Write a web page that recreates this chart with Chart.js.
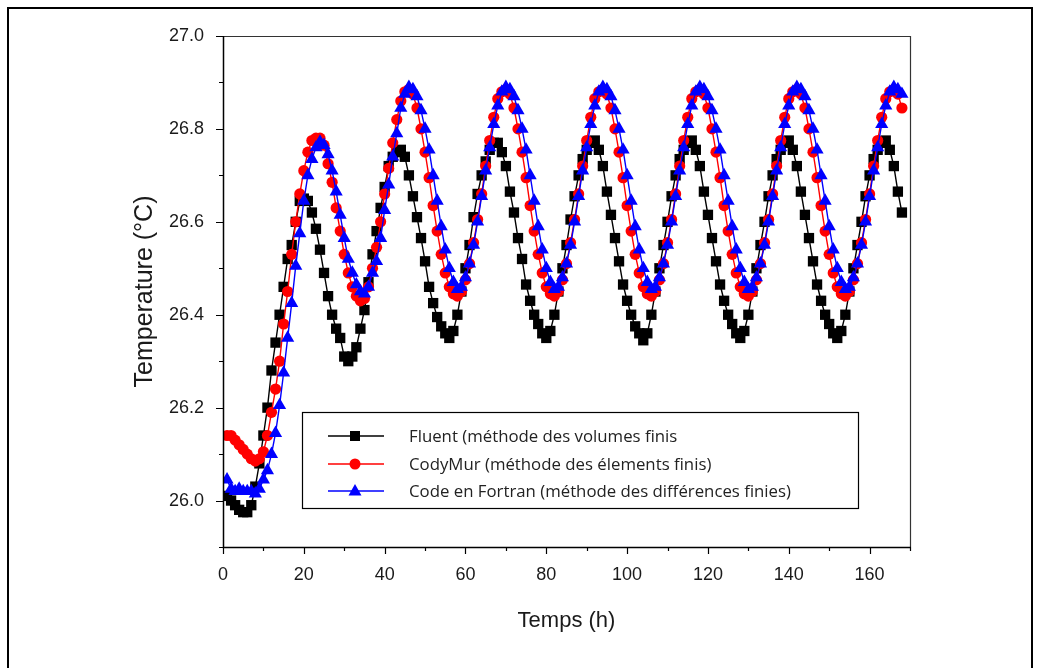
<!DOCTYPE html>
<html lang="fr">
<head>
<meta charset="utf-8">
<title>Temperature</title>
<script src="https://cdn.jsdelivr.net/npm/chart.js@4.4.1/dist/chart.umd.min.js"></script>
<style>
  html, body { margin: 0; padding: 0; background: #fff; }
  #boite { width: 1039px; height: 668px; }
</style>
</head>
<body>
<div id="boite"><canvas id="graphe" width="1039" height="668"></canvas></div>
<script>
// heures de simulation (h)
const heures = [
  1,2,3,4,5,6,7,8,9,10,11,12,13,14,15,16,17,18,19,20,
  21,22,23,24,25,26,27,28,29,30,31,32,33,34,35,36,37,38,39,40,
  41,42,43,44,45,46,47,48,49,50,51,52,53,54,55,56,57,58,59,60,
  61,62,63,64,65,66,67,68,69,70,71,72,73,74,75,76,77,78,79,80,
  81,82,83,84,85,86,87,88,89,90,91,92,93,94,95,96,97,98,99,100,
  101,102,103,104,105,106,107,108,109,110,111,112,113,114,115,116,117,118,119,120,
  121,122,123,124,125,126,127,128,129,130,131,132,133,134,135,136,137,138,139,140,
  141,142,143,144,145,146,147,148,149,150,151,152,153,154,155,156,157,158,159,160,
  161,162,163,164,165,166,167,168
];

// Fluent (méthode des volumes finis)
const fluent = [
  26.01,26.00,25.99,25.98,25.975,25.975,25.99,26.03,26.08,26.14,
  26.20,26.28,26.34,26.40,26.46,26.52,26.55,26.60,26.645,26.65,
  26.645,26.62,26.585,26.54,26.49,26.44,26.40,26.37,26.35,26.31,
  26.30,26.31,26.33,26.37,26.41,26.47,26.53,26.58,26.63,26.675,
  26.72,26.74,26.75,26.755,26.74,26.70,26.655,26.61,26.565,26.515,
  26.46,26.425,26.395,26.375,26.36,26.35,26.365,26.40,26.45,26.50,
  26.55,26.61,26.66,26.70,26.73,26.755,26.77,26.77,26.75,26.72,
  26.665,26.62,26.565,26.52,26.465,26.43,26.40,26.38,26.36,26.35,
  26.365,26.40,26.45,26.50,26.55,26.605,26.655,26.70,26.735,26.755,
  26.77,26.775,26.755,26.72,26.665,26.615,26.565,26.515,26.465,26.43,
  26.40,26.375,26.36,26.345,26.36,26.40,26.45,26.50,26.55,26.60,
  26.655,26.70,26.735,26.755,26.77,26.775,26.755,26.72,26.665,26.615,
  26.565,26.515,26.465,26.43,26.40,26.38,26.36,26.35,26.365,26.40,
  26.45,26.50,26.55,26.60,26.655,26.70,26.735,26.755,26.77,26.775,
  26.755,26.72,26.665,26.615,26.565,26.515,26.465,26.43,26.40,26.38,
  26.36,26.35,26.365,26.40,26.45,26.50,26.55,26.60,26.655,26.70,
  26.735,26.755,26.77,26.775,26.755,26.72,26.665,26.62
];

// CodyMur (méthode des élements finis)
const codyMur = [
  26.14,26.14,26.13,26.12,26.11,26.10,26.09,26.085,26.09,26.105,
  26.14,26.19,26.24,26.30,26.38,26.45,26.53,26.60,26.66,26.71,
  26.75,26.775,26.78,26.78,26.765,26.725,26.685,26.63,26.58,26.53,
  26.49,26.46,26.44,26.43,26.435,26.46,26.50,26.545,26.60,26.66,
  26.715,26.77,26.82,26.86,26.88,26.885,26.875,26.845,26.80,26.75,
  26.695,26.635,26.58,26.53,26.49,26.46,26.445,26.44,26.45,26.475,
  26.51,26.555,26.605,26.66,26.72,26.775,26.825,26.865,26.88,26.885,
  26.875,26.845,26.80,26.75,26.695,26.635,26.58,26.53,26.49,26.46,
  26.445,26.44,26.45,26.475,26.51,26.555,26.605,26.66,26.72,26.775,
  26.825,26.865,26.88,26.885,26.875,26.845,26.80,26.75,26.695,26.635,
  26.58,26.53,26.49,26.46,26.445,26.44,26.45,26.475,26.51,26.555,
  26.605,26.66,26.72,26.775,26.825,26.865,26.88,26.885,26.875,26.845,
  26.80,26.75,26.695,26.635,26.58,26.53,26.49,26.46,26.445,26.44,
  26.45,26.475,26.51,26.555,26.605,26.66,26.72,26.775,26.825,26.865,
  26.88,26.885,26.875,26.845,26.80,26.75,26.695,26.635,26.58,26.53,
  26.49,26.46,26.445,26.44,26.45,26.475,26.51,26.555,26.605,26.66,
  26.72,26.775,26.825,26.865,26.88,26.885,26.875,26.845
];

// Code en Fortran (méthode des différences finies)
const fortran = [
  26.045,26.025,26.02,26.025,26.02,26.02,26.02,26.015,26.025,26.045,
  26.065,26.10,26.145,26.205,26.275,26.35,26.425,26.505,26.575,26.645,
  26.70,26.735,26.76,26.772,26.765,26.745,26.71,26.665,26.615,26.565,
  26.52,26.49,26.465,26.45,26.445,26.46,26.49,26.515,26.565,26.625,
  26.68,26.74,26.79,26.845,26.875,26.89,26.885,26.87,26.84,26.80,
  26.755,26.70,26.645,26.59,26.54,26.50,26.47,26.455,26.46,26.48,
  26.51,26.55,26.60,26.655,26.71,26.76,26.81,26.85,26.88,26.89,
  26.885,26.87,26.84,26.80,26.755,26.70,26.645,26.59,26.54,26.50,
  26.47,26.455,26.46,26.48,26.51,26.55,26.60,26.655,26.71,26.76,
  26.81,26.85,26.88,26.89,26.885,26.87,26.84,26.80,26.755,26.70,
  26.645,26.59,26.54,26.50,26.47,26.455,26.46,26.48,26.51,26.55,
  26.60,26.655,26.71,26.76,26.81,26.85,26.88,26.89,26.885,26.87,
  26.84,26.80,26.755,26.70,26.645,26.59,26.54,26.50,26.47,26.455,
  26.46,26.48,26.51,26.55,26.60,26.655,26.71,26.76,26.81,26.85,
  26.88,26.89,26.885,26.87,26.84,26.80,26.755,26.70,26.645,26.59,
  26.54,26.50,26.47,26.455,26.46,26.48,26.51,26.55,26.60,26.655,
  26.71,26.76,26.81,26.85,26.88,26.89,26.885,26.875
];

const nomsSeries = [
  "Fluent (méthode des volumes finis",
  "CodyMur (méthode des élements finis)",
  "Code en Fortran (méthode des différences finies)"
];

const xMin = 0, xMax = 170, xPas = 10;
const yMin = 25.9, yMax = 27.0, yPas = 0.1;

function points(valeurs) {
  return valeurs.map((v, i) => ({ x: heures[i], y: v }));
}

const policeTicks = "'Liberation Sans Narrow', 'Liberation Sans', Arial, sans-serif";

// cadre, graduations et légende dessinés à la main
const cadrePlugin = {
  id: 'cadre',
  beforeDraw(chart) {
    const ctx = chart.ctx;
    ctx.save();
    ctx.fillStyle = '#fff';
    ctx.fillRect(0, 0, chart.width, chart.height);
    ctx.strokeStyle = '#000';
    ctx.lineWidth = 2;
    ctx.strokeRect(8, 8, 1024, 700);
    ctx.restore();
  },
  afterDraw(chart) {
    const ctx = chart.ctx;
    const a = chart.chartArea;
    const xs = chart.scales.x, ys = chart.scales.y;
    ctx.save();

    // bords haut / droite
    ctx.strokeStyle = '#333';
    ctx.lineWidth = 1.2;
    ctx.beginPath();
    ctx.moveTo(a.left, a.top + 0.5);
    ctx.lineTo(a.right + 0.5, a.top + 0.5);
    ctx.lineTo(a.right + 0.5, a.bottom);
    ctx.stroke();

    // axes gauche / bas
    ctx.strokeStyle = '#000';
    ctx.lineWidth = 1.5;
    ctx.beginPath();
    ctx.moveTo(a.left + 0.5, a.top);
    ctx.lineTo(a.left + 0.5, a.bottom + 0.5);
    ctx.lineTo(a.right + 1, a.bottom + 0.5);
    ctx.stroke();

    // graduations
    ctx.lineWidth = 1.2;
    ctx.beginPath();
    xs.ticks.forEach(t => {
      const px = Math.round(xs.getPixelForValue(t.value)) + 0.5;
      const majeur = Math.round(t.value) % 20 === 0;
      ctx.moveTo(px, a.bottom);
      ctx.lineTo(px, a.bottom + (majeur ? 7 : 4));
    });
    ys.ticks.forEach(t => {
      const py = Math.round(ys.getPixelForValue(t.value)) + 0.5;
      const majeur = Math.round(t.value * 10) % 2 === 0;
      ctx.moveTo(a.left, py);
      ctx.lineTo(a.left - (majeur ? 7 : 4), py);
    });
    ctx.stroke();

    // légende
    const bx = 302.5, by = 412.5, bw = 556, bh = 96;
    ctx.fillStyle = '#fff';
    ctx.fillRect(bx, by, bw, bh);
    ctx.strokeStyle = '#000';
    ctx.lineWidth = 1.2;
    ctx.strokeRect(bx, by, bw, bh);

    const lignes = [436, 464, 491];
    chart.data.datasets.forEach((ds, i) => {
      const y = lignes[i];
      ctx.strokeStyle = ds.borderColor;
      ctx.lineWidth = 1.5;
      ctx.beginPath();
      ctx.moveTo(328, y);
      ctx.lineTo(384, y);
      ctx.stroke();
      ctx.fillStyle = ds.pointBackgroundColor;
      ctx.beginPath();
      if (ds.pointStyle === 'rect') {
        ctx.rect(350, y - 5, 10, 10);
      } else if (ds.pointStyle === 'circle') {
        ctx.arc(355, y, 5.5, 0, Math.PI * 2);
      } else {
        ctx.moveTo(355, y - 7);
        ctx.lineTo(361.5, y + 4.5);
        ctx.lineTo(348.5, y + 4.5);
        ctx.closePath();
      }
      ctx.fill();
      ctx.fillStyle = '#222';
      ctx.font = "16.8px 'Open Sans', sans-serif";
      ctx.textBaseline = 'middle';
      ctx.textAlign = 'left';
      ctx.fillText(ds.label, 409, y + 1);
    });
    ctx.restore();
  }
};

const ctx = document.getElementById('graphe').getContext('2d');

new Chart(ctx, {
  type: 'line',
  data: {
    datasets: [
      {
        label: nomsSeries[0],
        data: points(fluent),
        borderColor: '#000000',
        backgroundColor: '#000000',
        pointBackgroundColor: '#000000',
        pointBorderColor: '#000000',
        pointStyle: 'rect',
        pointRadius: 7.3,
        borderWidth: 1.4,
        pointBorderWidth: 0,
        tension: 0,
        order: 2
      },
      {
        label: nomsSeries[1],
        data: points(codyMur),
        borderColor: '#ff0000',
        backgroundColor: '#ff0000',
        pointBackgroundColor: '#ff0000',
        pointBorderColor: '#ff0000',
        pointStyle: 'circle',
        pointRadius: 5.6,
        borderWidth: 1.4,
        pointBorderWidth: 0,
        tension: 0,
        order: 1
      },
      {
        label: nomsSeries[2],
        data: points(fortran),
        borderColor: '#0000ff',
        backgroundColor: '#0000ff',
        pointBackgroundColor: '#0000ff',
        pointBorderColor: '#0000ff',
        pointStyle: 'triangle',
        pointRadius: 7.6,
        borderWidth: 1.4,
        pointBorderWidth: 0,
        tension: 0,
        order: 0
      }
    ]
  },
  options: {
    responsive: false,
    animation: false,
    devicePixelRatio: 1,
    layout: { padding: { left: 0, right: 129, top: 36, bottom: 0 } },
    plugins: {
      legend: { display: false },
      tooltip: { enabled: false }
    },
    scales: {
      x: {
        type: 'linear',
        min: xMin,
        max: xMax,
        grid: { display: false },
        border: { display: false },
        ticks: {
          stepSize: xPas,
          autoSkip: false,
          maxRotation: 0,
          padding: 9,
          color: '#1a1a1a',
          font: { family: policeTicks, size: 18 },
          callback: v => (Math.round(v) % 20 === 0 ? String(Math.round(v)) : '')
        },
        title: {
          display: true,
          text: 'Temps (h)',
          color: '#1a1a1a',
          font: { family: "'Liberation Sans', Arial, sans-serif", size: 22 },
          padding: { top: 0, bottom: 34 }
        },
        afterFit: s => { s.height = 121; }
      },
      y: {
        type: 'linear',
        min: yMin,
        max: yMax,
        grid: { display: false },
        border: { display: false },
        ticks: {
          stepSize: yPas,
          autoSkip: false,
          padding: 11,
          color: '#1a1a1a',
          font: { family: policeTicks, size: 18 },
          callback: v => {
            const d = Math.round(v * 10);
            return (d % 2 === 0 && d >= 260) ? (d / 10).toFixed(1) : '';
          }
        },
        title: {
          display: true,
          text: 'Temperature (°C)',
          color: '#1a1a1a',
          font: { family: "'Liberation Sans', Arial, sans-serif", size: 25 },
          padding: { top: 130, bottom: 0 }
        },
        afterFit: s => { s.width = 223; }
      }
    }
  },
  plugins: [cadrePlugin]
});
</script>
</body>
</html>
